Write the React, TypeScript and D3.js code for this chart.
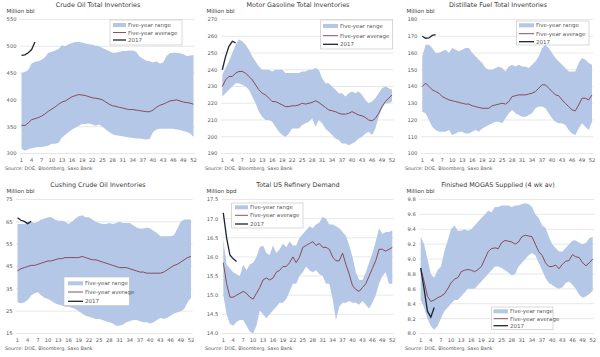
import React from "react";
import * as d3 from "d3";

const weeks = d3.range(1, 53);
const xTickLabels = [1, 4, 7, 10, 13, 16, 19, 22, 25, 28, 31, 34, 37, 40, 43, 46, 49, 52];
const weeks2017 = [1, 2, 3, 4, 5];

// Crude Oil Total Inventories
const crudeTicks = [300, 350, 400, 450, 500, 550];
const crudeUpper = [450, 452, 456, 468, 471, 472, 475, 480, 488, 490, 492, 495, 502, 500, 504, 506, 508, 508, 507, 505, 504, 503, 501, 500, 497, 494, 491, 488, 488, 490, 491, 491, 492, 492, 490, 481, 477, 473, 472, 470, 472, 468, 470, 482, 487, 488, 488, 487, 485, 482, 483, 484];
const crudeLower = [309, 305, 308, 310, 311, 312, 312, 313, 315, 318, 318, 320, 330, 335, 340, 345, 348, 352, 355, 355, 356, 354, 352, 354, 350, 345, 340, 336, 334, 333, 332, 331, 330, 329, 328, 328, 327, 326, 327, 340, 345, 346, 346, 346, 346, 346, 345, 344, 342, 340, 338, 331];
const crudeAvg = [353, 352, 357, 363, 365, 367, 370, 374, 379, 383, 387, 392, 396, 398, 402, 406, 408, 410, 409, 408, 406, 404, 403, 402, 400, 396, 392, 389, 388, 386, 385, 383, 382, 382, 381, 380, 379, 378, 378, 381, 386, 390, 392, 395, 398, 399, 400, 398, 396, 395, 394, 392];
const crude2017 = [483, 484, 488, 494, 508];

// Motor Gasoline Total Inventories
const gasTicks = [190, 200, 210, 220, 230, 240, 250, 260, 270];
const gasUpper = [237, 241, 245, 250, 255, 258, 257, 255, 252, 248, 245, 242, 240, 240, 240, 239, 240, 240, 240, 238, 238, 238, 238, 238, 239, 239, 240, 240, 241, 240, 235, 232, 232, 230, 228, 226, 226, 224, 226, 227, 226, 227, 225, 222, 220, 221, 223, 226, 229, 230, 229, 228];
const gasLower = [224, 226, 228, 230, 232, 232, 231, 230, 228, 224, 220, 215, 212, 210, 210, 209, 206, 203, 201, 200, 202, 205, 205, 205, 207, 208, 209, 211, 206, 210, 208, 205, 203, 201, 199, 198, 196, 196, 195, 196, 197, 199, 200, 202, 203, 201, 205, 212, 217, 220, 220, 221];
const gasAvg = [230, 234, 236, 236, 238, 239, 239, 238, 236, 234, 231, 228, 226, 225, 223, 221, 221, 220, 219, 218, 218, 218.5, 218.5, 219, 220, 219.5, 220, 220.5, 221.5, 220.5, 219, 217.5, 216, 215.5, 215, 214, 213.5, 213.5, 214, 215, 214, 213, 212.5, 211.5, 210, 209.5, 211, 214, 218, 221, 223, 225];
const gas2017 = [240, 248, 254, 257, 256];

// Distillate Fuel Total Inventories
const distTicks = [100, 110, 120, 130, 140, 150, 160, 170, 180];
const distUpper = [158, 165, 165, 163, 160, 160, 161, 162, 160, 163, 162, 161, 162, 163, 163, 160, 158, 156, 154, 151, 150, 150, 151, 152, 151, 149, 152, 153, 152, 153, 152, 152, 151, 153, 155, 158, 163, 165, 163, 160, 157, 155, 153, 151, 149, 149, 149, 154, 157, 156, 154, 153];
const distLower = [125, 124, 120, 116, 114, 113, 113, 113, 114, 111, 112, 113, 113, 112, 112, 113, 114, 113, 115, 116, 117, 118, 119, 119, 118, 121, 124, 126, 124, 123, 122, 122, 123, 124, 127, 128, 128, 127, 124, 121, 119, 118, 118, 117, 114, 112, 111, 115, 118, 116, 114, 119];
const distAvg = [140, 142, 140, 138, 137, 136, 134, 133, 132, 131.5, 131, 130.5, 130, 129.5, 129.5, 128.5, 128, 127.5, 127, 127, 127, 128.5, 129, 129.5, 130, 129.5, 131, 134, 134.5, 135, 135, 135, 135.5, 136, 137, 139, 141, 141, 139, 137, 135, 134.5, 132, 130, 128, 126, 125.5, 129, 133, 133, 132, 135];
const dist2017 = [170, 168.8, 169, 170.5, 171];

// Cushing Crude Oil Inventories
const cushTicks = [15, 25, 35, 45, 55, 65, 75];
const cushUpper = [64, 64, 64, 64.5, 65, 64.5, 65, 66, 66.5, 67, 67, 66, 65.5, 65.5, 65, 64, 65, 66.5, 67.5, 68, 67, 67, 66, 65, 64.5, 64, 64, 64.5, 64, 64.5, 65, 64.5, 64.5, 64.5, 63.5, 62.5, 62, 62, 62.5, 62, 61, 60, 58.5, 58.5, 58.5, 58.5, 59, 62, 65, 66, 66, 66];
const cushLower = [29, 28.5, 29, 30, 32, 33, 33.5, 32, 31, 30.5, 29.5, 28.5, 28, 27.5, 27, 27, 26.5, 26, 25, 24, 23, 22.5, 22, 21.5, 21.5, 21, 20.5, 20, 19.5, 18.5, 18.5, 19, 20, 20.5, 21, 21, 20.5, 20, 20, 19.5, 20, 21, 22, 21.5, 22, 23, 24, 24.5, 25, 26, 29, 31];
const cushAvg = [43, 44, 44.5, 45, 45.5, 45.5, 46, 46.5, 47, 47.5, 47.5, 48, 48.5, 48.5, 49, 49, 49, 49, 49, 49.5, 49, 48.5, 48, 48, 47.5, 47, 46.5, 46, 45.5, 45, 44.5, 44.5, 44.5, 44, 43.5, 43, 42.5, 42.5, 42, 42, 42, 42, 42, 42.5, 43.5, 44.5, 45.5, 46, 47, 48, 49, 49.5];
const cush2017 = [66.8, 65.7, 65.2, 64.2, 65.3];

// Total US Refinery Demand
const refTicks = [14.0, 14.5, 15.0, 15.5, 16.0, 16.5, 17.0, 17.5];
const refUpper = [16.45, 15.8, 15.7, 15.6, 15.55, 15.5, 15.8, 15.65, 15.8, 15.85, 16.0, 16.25, 16.3, 16.1, 16.05, 16.3, 16.1, 16.2, 16.35, 16.25, 16.4, 16.3, 16.3, 16.5, 16.6, 16.7, 16.8, 16.75, 16.85, 16.9, 17.05, 17.0, 16.85, 16.85, 16.8, 16.75, 16.65, 16.55, 16.3, 16.0, 15.6, 15.4, 15.4, 15.6, 15.85, 16.1, 16.4, 16.75, 16.6, 16.65, 16.65, 16.7];
const refLower = [15.0, 14.5, 14.25, 14.2, 14.3, 14.35, 14.35, 14.2, 14.05, 14.0, 14.2, 14.6, 14.5, 14.4, 14.5, 14.6, 14.7, 14.8, 14.8, 14.9, 15.1, 15.3, 15.3, 15.5, 15.6, 15.75, 15.65, 15.6, 15.65, 15.55, 15.5, 15.3, 15.3, 14.9, 14.35, 14.7, 14.8, 14.8, 14.85, 14.8, 14.8, 14.75, 14.85, 14.75, 14.65, 14.8, 15.0, 15.3, 15.5, 15.6, 15.3, 15.3];
const refAvg = [15.85, 15.3, 14.95, 14.95, 15.0, 15.05, 15.1, 15.05, 14.95, 14.9, 15.05, 15.2, 15.4, 15.45, 15.4, 15.45, 15.6, 15.65, 15.75, 15.75, 15.85, 16.0, 15.85, 16.0, 16.25, 16.3, 16.35, 16.4, 16.3, 16.35, 16.25, 16.25, 16.2, 16.0, 15.9, 15.9, 16.1, 15.8, 15.55, 15.25, 15.15, 15.1, 15.2, 15.3, 15.5, 15.7, 15.9, 16.2, 16.2, 16.15, 16.2, 16.25];
const ref2017 = [17.15, 16.5, 16.05, 15.95, 15.88];

// Finished MOGAS Supplied (4 wk av)
const mogasTicks = [8.0, 8.2, 8.4, 8.6, 8.8, 9.0, 9.2, 9.4, 9.6, 9.8];
const mogasUpper = [9.3, 9.2, 9.0, 8.8, 8.75, 8.85, 8.9, 9.1, 9.25, 9.4, 9.45, 9.38, 9.38, 9.4, 9.38, 9.4, 9.45, 9.5, 9.55, 9.6, 9.65, 9.63, 9.7, 9.7, 9.72, 9.72, 9.72, 9.7, 9.72, 9.72, 9.74, 9.75, 9.74, 9.7, 9.6, 9.55, 9.45, 9.42, 9.3, 9.2, 9.15, 9.1, 9.1, 9.15, 9.2, 9.25, 9.25, 9.22, 9.2, 9.22, 9.28, 9.3];
const mogasLower = [8.45, 8.35, 8.2, 8.1, 8.05, 8.1, 8.2, 8.3, 8.35, 8.4, 8.45, 8.45, 8.5, 8.55, 8.6, 8.6, 8.6, 8.65, 8.7, 8.75, 8.8, 8.85, 8.9, 8.9, 8.88, 8.85, 8.82, 8.78, 8.8, 8.9, 8.95, 9.0, 9.05, 9.08, 9.05, 8.95, 8.85, 8.75, 8.68, 8.65, 8.62, 8.6, 8.62, 8.68, 8.7, 8.65, 8.6, 8.52, 8.48, 8.5, 8.53, 8.57];
const mogasAvg = [8.88, 8.7, 8.5, 8.43, 8.45, 8.48, 8.5, 8.53, 8.6, 8.68, 8.73, 8.75, 8.83, 8.85, 8.86, 8.85, 8.83, 8.86, 8.9, 9.0, 9.1, 9.14, 9.15, 9.14, 9.22, 9.25, 9.24, 9.23, 9.2, 9.23, 9.3, 9.32, 9.31, 9.3, 9.2, 9.1, 9.05, 8.95, 8.9, 8.9, 8.92, 8.87, 8.93, 8.97, 8.98, 9.06, 9.03, 9.02, 8.95, 8.91, 8.95, 9.0];
const mogas2017 = [8.88, 8.6, 8.3, 8.22, 8.35];

const legendLabels = ["Five-year range", "Five-year average", "2017"];
const sourceText = "Source: DOE, Bloomberg, Saxo Bank";

const FONT = "'DejaVu Sans', Verdana, sans-serif";
const AREA = "#b4c7e7";
const AVG = "#843c4c";
const LINE17 = "#1b2535";
const TEXT = "#595959";

type Panel = {
  title: string; unit: string; x0: number; y0: number; xL: number; xR: number;
  ticks: number[]; dec: number; upper: number[]; lower: number[]; avg: number[]; y17: number[];
  lg: { x: number; y: number; w: number; h: number; sx: number; tx: number; rows: number[] };
};

const panels: Panel[] = [
  { title: "Crude Oil Total Inventories", unit: "Million bbl", x0: 0, y0: 0, xL: 21.5, xR: 193.5, ticks: crudeTicks, dec: 0, upper: crudeUpper, lower: crudeLower, avg: crudeAvg, y17: crude2017,
    lg: { x: 110, y: 20, w: 72, h: 25, sx: 113, tx: 128, rows: [25, 32.5, 40] } },
  { title: "Motor Gasoline Total Inventories", unit: "Million bbl", x0: 200, y0: 0, xL: 22.3, xR: 192, ticks: gasTicks, dec: 0, upper: gasUpper, lower: gasLower, avg: gasAvg, y17: gas2017,
    lg: { x: 120.7, y: 20, w: 72, h: 29, sx: 123, tx: 140, rows: [26, 35.7, 44.3] } },
  { title: "Distillate Fuel Total Inventories", unit: "Million bbl", x0: 400, y0: 0, xL: 22.3, xR: 192, ticks: distTicks, dec: 0, upper: distUpper, lower: distLower, avg: distAvg, y17: dist2017,
    lg: { x: 116.7, y: 21, w: 72.3, h: 24, sx: 119, tx: 136, rows: [25.3, 33.7, 41.7] } },
  { title: "Cushing Crude Oil Inventories", unit: "Million bbl", x0: 0, y0: 180, xL: 17.5, xR: 191, ticks: cushTicks, dec: 0, upper: cushUpper, lower: cushLower, avg: cushAvg, y17: cush2017,
    lg: { x: 64, y: 97, w: 65.3, h: 28.7, sx: 68, tx: 85, rows: [103.3, 112, 121.3] } },
  { title: "Total US Refinery Demand", unit: "Million bpd", x0: 200, y0: 180, xL: 23.3, xR: 192.3, ticks: refTicks, dec: 1, upper: refUpper, lower: refLower, avg: refAvg, y17: ref2017,
    lg: { x: 31.7, y: 23, w: 71.3, h: 25, sx: 35, tx: 50, rows: [27.3, 35.3, 44] } },
  { title: "Finished MOGAS Supplied (4 wk av)", unit: "Million bbl", x0: 400, y0: 180, xL: 20.7, xR: 192.7, ticks: mogasTicks, dec: 1, upper: mogasUpper, lower: mogasLower, avg: mogasAvg, y17: mogas2017,
    lg: { x: 91.7, y: 127, w: 61.3, h: 22.7, sx: 93.5, tx: 110, rows: [131.3, 138.7, 145.7] } },
];

function ChartPanel({ p }: { p: Panel }) {
  const top = 19.5, bottom = 153.5;
  const x = d3.scaleLinear().domain([1, 52]).range([p.xL, p.xR]);
  const y = d3.scaleLinear().domain([p.ticks[0], p.ticks[p.ticks.length - 1]]).range([bottom, top]);
  const area = d3.area<number>().x((w) => x(w)).y0((w) => y(p.lower[w - 1])).y1((w) => y(p.upper[w - 1]));
  const avgLine = d3.line<number>().x((w) => x(w)).y((w) => y(p.avg[w - 1]));
  const line17 = d3.line<number>().x((w) => x(w)).y((w) => y(p.y17[w - 1]));
  const fmt = d3.format(p.dec ? ".1f" : "d");
  const lg = p.lg;
  return (
    <g transform={`translate(${p.x0},${p.y0})`} fontFamily={FONT}>
      <text x={98} y={6.8} textAnchor="middle" fontSize={6.4} fill="#3a3a3a">{p.title}</text>
      <text x={6.5} y={12.5} fontSize={5.5} fill="#404040">{p.unit}</text>
      {p.ticks.map((t) => (
        <g key={t}>
          <line x1={p.xL - 1.5} x2={p.xR + 1.5} y1={y(t)} y2={y(t)} stroke="#d9d9d9" strokeWidth={0.6} />
          <text x={p.xL - 5} y={y(t) + 1.9} textAnchor="end" fontSize={5.2} fill={TEXT}>{fmt(t)}</text>
        </g>
      ))}
      <path d={area(weeks) || ""} fill={AREA} />
      <path d={avgLine(weeks) || ""} fill="none" stroke={AVG} strokeWidth={0.9} />
      <path d={line17(weeks2017) || ""} fill="none" stroke={LINE17} strokeWidth={1.3} />
      {xTickLabels.map((t) => (
        <text key={t} x={x(t)} y={162} textAnchor="middle" fontSize={5.2} fill={TEXT}>{t}</text>
      ))}
      <text x={5} y={170} fontSize={4.8} fill={TEXT}>{sourceText}</text>
      <rect x={lg.x} y={lg.y} width={lg.w} height={lg.h} fill="#fff" stroke="#bfbfbf" strokeWidth={0.6} />
      <rect x={lg.sx} y={lg.rows[0] - 2} width={lg.tx - lg.sx - 2} height={4} fill={AREA} />
      <line x1={lg.sx} x2={lg.tx - 2} y1={lg.rows[1]} y2={lg.rows[1]} stroke={AVG} strokeWidth={0.9} />
      <line x1={lg.sx} x2={lg.tx - 2} y1={lg.rows[2]} y2={lg.rows[2]} stroke={LINE17} strokeWidth={1.3} />
      {legendLabels.map((l, i) => (
        <text key={l} x={lg.tx} y={lg.rows[i] + 2} fontSize={5.5} fill={TEXT}>{l}</text>
      ))}
    </g>
  );
}

export default function App() {
  return (
    <svg width={600} height={357} style={{ position: "absolute", left: 0, top: 0, background: "#fff" }}>
      <rect x={0} y={0} width={600} height={357} fill="#fff" />
      {panels.map((p) => (
        <ChartPanel key={p.title} p={p} />
      ))}
    </svg>
  );
}
